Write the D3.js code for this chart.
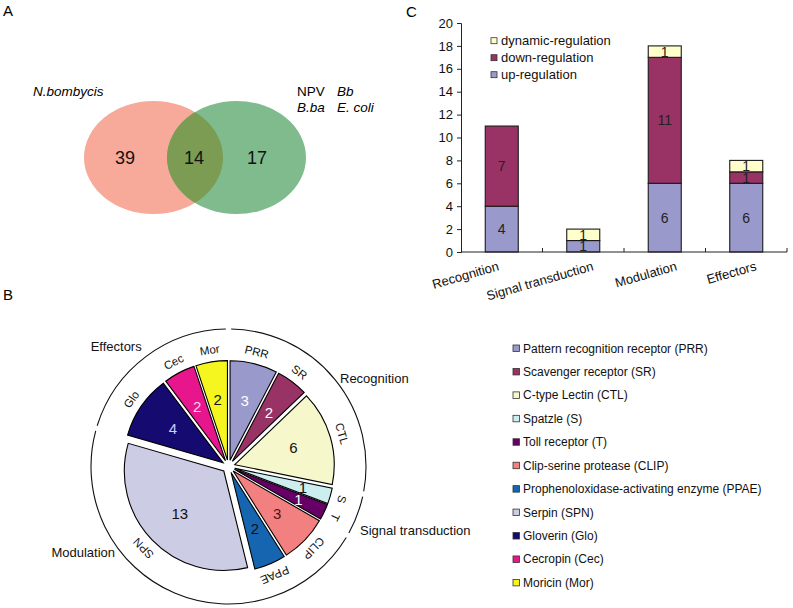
<!DOCTYPE html>
<html><head><meta charset="utf-8">
<script src="https://cdn.jsdelivr.net/npm/d3@7"></script>
<style>body{margin:0;background:#fff}svg{display:block;font-family:"Liberation Sans",Arial,sans-serif}</style>
</head><body><svg id="c" width="793" height="608"></svg>
<script>
// ---------- data ----------
const vennCounts = [39, 14, 17];            // only N.bombycis, shared, only others
const vennLeftName = "N.bombycis";
const vennRightNames = [["NPV", false], ["Bb", true], ["B.ba", true], ["E. coli", true]];

const pieCodes  = ["PRR","SR","CTL","S","T","CLIP","PPAE","SPN","Glo","Cec","Mor"];
const pieValues = [3, 2, 6, 1, 1, 3, 2, 13, 4, 2, 2];
const pieGroups = ["Recognition","Recognition","Recognition","Signal transduction","Signal transduction",
                   "Modulation","Modulation","Modulation","Effectors","Effectors","Effectors"];
const legendNames = ["Pattern recognition receptor (PRR)","Scavenger receptor (SR)","C-type Lectin (CTL)",
  "Spatzle (S)","Toll receptor (T)","Clip-serine protease (CLIP)","Prophenoloxidase-activating enzyme (PPAE)",
  "Serpin (SPN)","Gloverin (Glo)","Cecropin (Cec)","Moricin (Mor)"];
const groupNames = ["Recognition","Signal transduction","Modulation","Effectors"];

const barCategories = ["Recognition","Signal transduction","Modulation","Effectors"];
const upReg   = [4, 1, 6, 6];
const downReg = [7, 0, 11, 1];
const dynReg  = [0, 1, 1, 1];
const seriesNames = ["up-regulation","down-regulation","dynamic-regulation"];
const yTickValues = [0,2,4,6,8,10,12,14,16,18,20];

// ---------- styles / layout ----------
const pieColors  = ["#9999cc","#993366","#f7f7cc","#cdeeee","#660066","#f28080","#1565b0","#ccccE4","#140a70","#e8168c","#f5f520"];
const pieLabelColors = ["#ffffff","#ffffff","#111111","#111111","#ffffff","#5a1010","#111111","#111111","#ccccff","#ffd0ee","#111111"];
const seriesColors = ["#9999cc","#993366","#ffffcc"];
const groupLabelLayout = [[111.5,-83.5,"start"],[131.5,68.5,"start"],[-113.5,90.5,"end"],[-86.8,-115.5,"end"]];
const catLabelDx = [-2, 11, 13, 11];

const svg = d3.select("#c");
const font = "'Liberation Sans',Arial,sans-serif";

// panel letters
svg.append("text").attr("x",3).attr("y",16).attr("font-size",15).text("A");
svg.append("text").attr("x",3).attr("y",300).attr("font-size",15).text("B");
svg.append("text").attr("x",406).attr("y",17).attr("font-size",15).text("C");

// ---------- Panel A: Venn ----------
(function(){
  const cyV = 157.5, rx = 69.5, ry = 56.5, lx = 153.5, rxC = 236.5;
  const defs = svg.append("defs");
  defs.append("clipPath").attr("id","leftClip").append("ellipse")
    .attr("cx",lx).attr("cy",cyV).attr("rx",rx).attr("ry",ry);
  const g = svg.append("g");
  g.append("ellipse").attr("cx",lx).attr("cy",cyV).attr("rx",rx).attr("ry",ry).attr("fill","#f7a99a");
  g.append("ellipse").attr("cx",rxC).attr("cy",cyV).attr("rx",rx).attr("ry",ry).attr("fill","#7fbb8d");
  g.append("ellipse").attr("cx",rxC).attr("cy",cyV).attr("rx",rx).attr("ry",ry).attr("fill","#7b9c52")
    .attr("clip-path","url(#leftClip)");
  const nx = [125, 194, 257];
  g.selectAll("text.vn").data(vennCounts).join("text").attr("class","vn")
    .attr("x",(d,i)=>nx[i]).attr("y",cyV).attr("dy","0.35em").attr("text-anchor","middle")
    .attr("font-size",18).attr("fill","#111").text(d=>d);
  g.append("text").attr("x",33).attr("y",96).attr("font-size",13.5).attr("font-style","italic").text(vennLeftName);
  const pos = [[297,95.7],[337,95.7],[297,112.3],[337,112.3]];
  vennRightNames.forEach((n,i)=>{
    g.append("text").attr("x",pos[i][0]).attr("y",pos[i][1]).attr("font-size",13.5)
      .attr("font-style",n[1]?"italic":"normal").text(n[0]);
  });
})();

// ---------- Panel C: stacked bars ----------
(function(){
  const x = d3.scaleBand().domain(barCategories).range([461,787]).paddingInner(0).paddingOuter(0);
  const y = d3.scaleLinear().domain([0,20]).range([252,23]);
  const g = svg.append("g");
  const stackData = barCategories.map((c,i)=>({cat:c, up:upReg[i], down:downReg[i], dyn:dynReg[i]}));
  const stack = d3.stack().keys(["up","down","dyn"])(stackData);
  const bw = x.bandwidth()*0.405;
  stack.forEach((layer,li)=>{
    layer.forEach(seg=>{
      const v = seg[1]-seg[0];
      if (v<=0) return;
      const cxB = x(seg.data.cat)+x.bandwidth()/2;
      g.append("rect").attr("x",cxB-bw/2).attr("y",y(seg[1])).attr("width",bw)
        .attr("height",y(seg[0])-y(seg[1])).attr("fill",seriesColors[li])
        .attr("stroke","#1a1a1a").attr("stroke-width",1.1);
      g.append("text").attr("x",cxB).attr("y",(y(seg[0])+y(seg[1]))/2).attr("dy","0.36em")
        .attr("text-anchor","middle").attr("font-size",14).attr("fill","#222").text(v);
    });
  });
  // y axis
  const ya = d3.axisLeft(y).tickValues(yTickValues).tickSize(4).tickPadding(4);
  const yg = g.append("g").attr("transform","translate(461,0)").call(ya);
  yg.select(".domain").attr("stroke","#222");
  yg.selectAll(".tick line").attr("stroke","#222");
  yg.selectAll(".tick text").attr("font-size",13).attr("font-family",font).attr("fill","#111");
  // x axis
  g.append("line").attr("x1",461).attr("x2",787).attr("y1",252).attr("y2",252).attr("stroke","#222");
  barCategories.forEach((c,i)=>{
    const xe = x(c)+x.bandwidth();
    g.append("line").attr("x1",xe).attr("x2",xe).attr("y1",252).attr("y2",248).attr("stroke","#222");
    const cxB = x(c)+x.bandwidth()/2 + catLabelDx[i];
    g.append("text").attr("text-anchor","end").attr("font-size",13).attr("fill","#111")
      .attr("transform",`translate(${cxB},270) rotate(-16)`).text(c);
  });
  // legend
  const order = [2,1,0];
  order.forEach((si,k)=>{
    const yy = 40.7 + k*17;
    g.append("rect").attr("x",491).attr("y",yy-3).attr("width",6).attr("height",6)
      .attr("fill",seriesColors[si]).attr("stroke","#333").attr("stroke-width",0.8);
    g.append("text").attr("x",501).attr("y",yy).attr("dy","0.35em").attr("font-size",13)
      .attr("fill","#111").text(seriesNames[si]);
  });
})();

// ---------- Panel B: exploded pie ----------
(function(){
  const cx = 228.5, cy = 466.5, R = 99.5, ex = 6.5, ringR = 137.5;
  const arcs = d3.pie().sort(null).value(d=>d)(pieValues);
  const arc = d3.arc().innerRadius(0).outerRadius(R);
  const g = svg.append("g").attr("transform",`translate(${cx},${cy})`);
  arcs.forEach((a,i)=>{
    const mid = (a.startAngle+a.endAngle)/2;
    const tx = ex*Math.sin(mid), ty = -ex*Math.cos(mid);
    const sg = g.append("g").attr("transform",`translate(${tx},${ty})`);
    sg.append("path").attr("d",arc(a)).attr("fill",pieColors[i]).attr("stroke","#000").attr("stroke-width",1.1)
      .attr("stroke-linejoin","miter");
    const lr = pieValues[i] <= 1 ? 71 : 61;
    sg.append("text").attr("x",lr*Math.sin(mid)).attr("y",-lr*Math.cos(mid)).attr("dy","0.36em")
      .attr("text-anchor","middle").attr("font-size",15).attr("fill",pieLabelColors[i]).text(pieValues[i]);
    g.append("text").attr("text-anchor","middle").attr("font-size",11.5).attr("fill","#111")
      .attr("transform",`rotate(${mid*180/Math.PI}) translate(0,-114)`).text(pieCodes[i]);
  });
  // group ring
  const pad = 1.1*Math.PI/180;
  groupNames.forEach((gn,gi)=>{
    const members = arcs.filter((a,i)=>pieGroups[i]===gn);
    const a0 = d3.min(members,d=>d.startAngle)+pad, a1 = d3.max(members,d=>d.endAngle)-pad;
    const p = d3.path();
    p.arc(0,0,ringR,a0-Math.PI/2,a1-Math.PI/2);
    g.append("path").attr("d",p.toString()).attr("fill","none").attr("stroke","#111").attr("stroke-width",1.1);
    const L = groupLabelLayout[gi];
    g.append("text").attr("x",L[0]).attr("y",L[1]).attr("text-anchor",L[2]).attr("font-size",13)
      .attr("fill","#111").text(gn);
  });
  // legend
  const lg = svg.append("g");
  legendNames.forEach((n,i)=>{
    const yy = 348.3 + i*23.44;
    lg.append("rect").attr("x",513).attr("y",yy-3.3).attr("width",6.5).attr("height",6.5)
      .attr("fill",pieColors[i]).attr("stroke","#333").attr("stroke-width",0.8);
    lg.append("text").attr("x",523).attr("y",yy).attr("dy","0.35em").attr("font-size",12)
      .attr("fill","#111").text(n);
  });
})();
</script></body></html>
